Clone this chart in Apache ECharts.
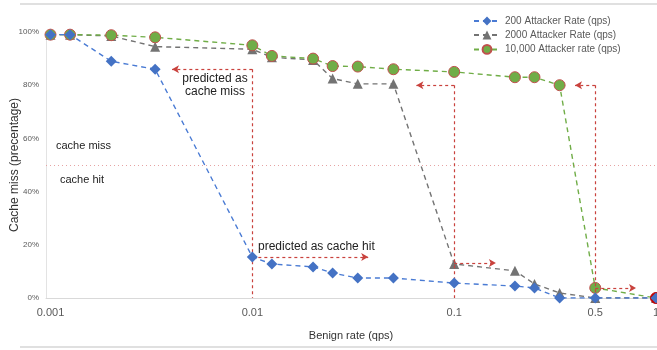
<!DOCTYPE html>
<html>
<head>
<meta charset="utf-8">
<script src="https://cdn.jsdelivr.net/npm/echarts@6/dist/echarts.min.js"></script>
<style>
html, body { margin: 0; padding: 0; background: #fff; }
#chartBox { width: 657px; height: 350px; }
</style>
</head>
<body>
<div id="chartBox"></div>
<script>
// benign rate (qps) for every measured point
const rates = [0.001, 0.00125, 0.002, 0.0033, 0.01, 0.0125, 0.02, 0.025, 0.0333, 0.05, 0.1, 0.2, 0.25, 0.333, 0.5, 1]
// cache miss (%) per attacker rate
const rate200 = [99, 99, 89, 86, 15.4, 12.8, 11.7, 9.4, 7.5, 7.5, 5.6, 4.5, 3.8, 0, 0, 0]
const rate2000 = [99, 99, 98.5, 94.5, 93.5, 90.5, 89.5, 82.5, 80.5, 80.5, 12.8, 10.2, 5.3, 1.9, 0, 0]
const rate10000 = [99, 99, 98.8, 98, 95, 91, 90, 87.2, 87, 86, 85, 83, 83, 80, 3.8, 0]
const seriesNames = ['200 Attacker Rate (qps)', '2000 Attacker Rate (qps)', '10,000 Attacker rate (qps)']
const xTicks = [0.001, 0.01, 0.1, 0.5, 1]
const yTicks = [0, 20, 40, 60, 80, 100]
const threshold = 50
// prediction annotations: [from, to] in data units
const dropLines = [
  [[0.01, 86], [0.01, 0]],
  [[0.1, 80], [0.1, 0]],
  [[0.5, 80], [0.5, 0]]
]
const arrowLines = [
  [[0.01, 86], [0.004, 86]],
  [[0.01, 15.4], [0.0375, 15.4]],
  [[0.1, 80], [0.065, 80]],
  [[0.1, 13.2], [0.161, 13.2]],
  [[0.5, 80], [0.397, 80]],
  [[0.5, 3.8], [0.796, 3.8]]
]

const pairs = vals => vals.map((v, i) => [rates[i], v])
const redDash = { color: '#c9423d', type: [3, 3], width: 1.2 }
const font = 'Liberation Sans, Arial, sans-serif'

let myChart = echarts.init(document.getElementById('chartBox'))
myChart.setOption({
  animation: false,
  textStyle: { fontFamily: font },
  grid: { left: 46, right: 1, top: 32, bottom: 52, outerBoundsMode: 'none', containLabel: false },
  legend: {
    data: seriesNames,
    orient: 'vertical',
    left: 468,
    top: 11,
    itemWidth: 26,
    itemHeight: 11,
    itemGap: 4,
    textStyle: { fontSize: 10, color: '#595959' }
  },
  xAxis: {
    type: 'log',
    logBase: 10,
    min: 0.00095,
    max: 1,
    name: 'Benign rate (qps)',
    nameLocation: 'middle',
    nameGap: 32,
    nameMoveOverlap: false,
    nameTextStyle: { fontSize: 11, color: '#333' },
    axisLine: { lineStyle: { color: '#d9d9d9' } },
    axisTick: { show: false },
    splitLine: { show: false },
    axisLabel: {
      customValues: xTicks,
      fontSize: 11,
      color: '#595959',
      margin: 9,
      formatter: v => String(+v.toPrecision(3))
    }
  },
  yAxis: {
    type: 'value',
    min: 0,
    max: 100,
    interval: 20,
    name: 'Cache miss (precentage)',
    nameLocation: 'middle',
    nameGap: 25,
    nameMoveOverlap: false,
    nameTextStyle: { fontSize: 12, color: '#333' },
    axisLine: { show: true, lineStyle: { color: '#e3e3e3' } },
    axisTick: { show: false },
    splitLine: { show: false },
    axisLabel: {
      customValues: yTicks,
      fontSize: 8,
      color: '#595959',
      margin: 7,
      formatter: '{value}%'
    }
  },
  series: [
    {
      name: seriesNames[0],
      type: 'line',
      z: 5,
      data: pairs(rate200),
      symbol: 'diamond',
      symbolSize: 11,
      itemStyle: { color: '#4472c4' },
      lineStyle: { color: '#4a7bd4', type: [5, 4], width: 1.4 }
    },
    {
      name: seriesNames[1],
      type: 'line',
      z: 3,
      data: pairs(rate2000),
      symbol: 'triangle',
      symbolSize: 10,
      itemStyle: { color: '#737373' },
      lineStyle: { color: '#737373', type: [5, 4], width: 1.4 }
    },
    {
      name: seriesNames[2],
      type: 'line',
      z: 4,
      data: pairs(rate10000).map((p, i, arr) => i === arr.length - 1
        ? { value: p, itemStyle: { color: '#c00000', borderColor: '#c00000' } }
        : p),
      symbol: 'circle',
      symbolSize: 11,
      itemStyle: { color: '#70ad47', borderColor: '#c0504d', borderWidth: 1 },
      lineStyle: { color: '#70ad47', type: [5, 4], width: 1.4 }
    },
    {
      name: 'annotations',
      type: 'line',
      data: [],
      z: 6,
      markLine: {
        silent: true,
        symbol: ['none', 'none'],
        label: { show: false },
        lineStyle: redDash,
        data: [
          { yAxis: threshold, lineStyle: { color: '#e6a3a3', type: [1, 3], width: 1 } }
        ].concat(dropLines.map(l => [{ coord: l[0] }, { coord: l[1] }]))
          .concat(arrowLines.map(l => [{ coord: l[0], symbol: 'none' }, { coord: l[1], symbol: 'arrow', symbolSize: [6, 7] }]))
      }
    }
  ],
  graphic: [
    { type: 'line', shape: { x1: 20, y1: 4, x2: 657, y2: 4 }, style: { stroke: '#e0e0e0', lineWidth: 2 } },
    { type: 'line', shape: { x1: 20, y1: 347, x2: 657, y2: 347 }, style: { stroke: '#e0e0e0', lineWidth: 2 } },
    { type: 'text', x: 215, y: 72, style: { text: 'predicted as\ncache miss', fill: '#222', align: 'center', lineHeight: 13, font: '12px ' + font } },
    { type: 'text', x: 258, y: 241, style: { text: 'predicted as cache hit', fill: '#222', font: '12px ' + font } },
    { type: 'text', x: 56, y: 140, style: { text: 'cache miss', fill: '#222', font: '11px ' + font } },
    { type: 'text', x: 60, y: 174, style: { text: 'cache hit', fill: '#222', font: '11px ' + font } }
  ]
})
</script>
</body>
</html>
